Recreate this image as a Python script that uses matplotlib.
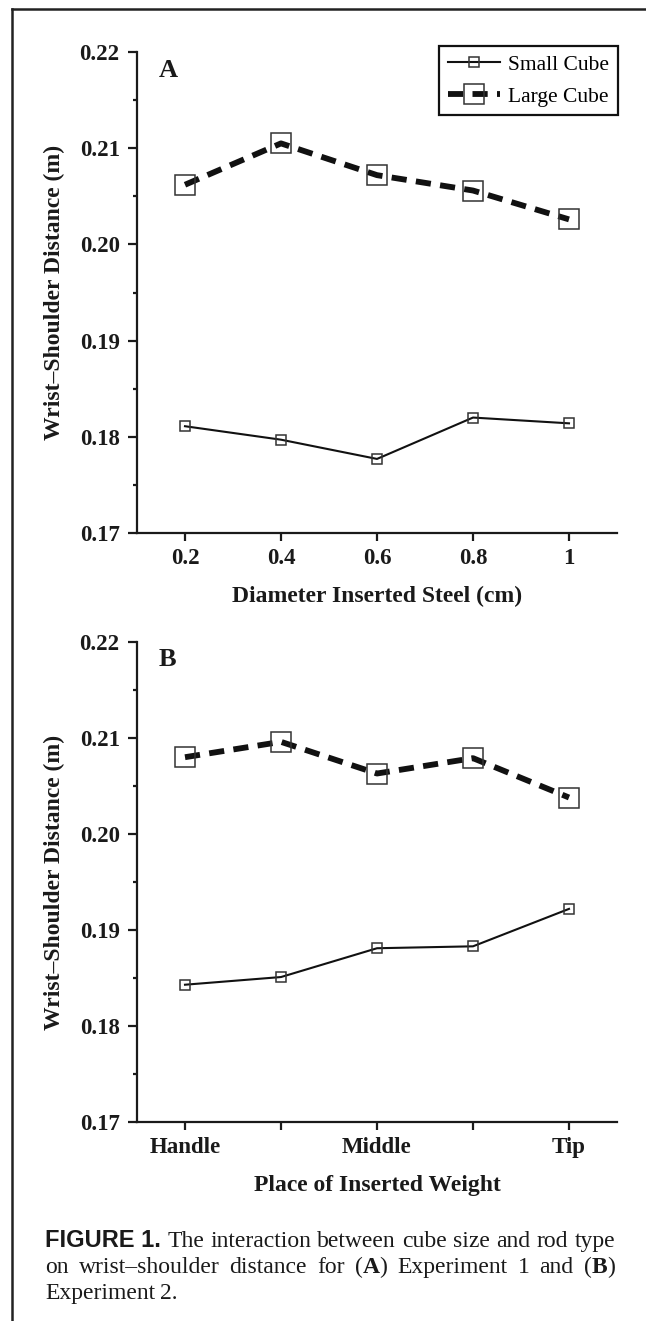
import matplotlib
matplotlib.use('Agg')
import matplotlib.pyplot as plt
from matplotlib.lines import Line2D
from matplotlib.ticker import MultipleLocator

# data
diameters = [0.2, 0.4, 0.6, 0.8, 1.0]
a_large = [0.2062, 0.2105, 0.2072, 0.2056, 0.2026]
a_small = [0.1811, 0.1797, 0.1777, 0.1820, 0.1814]

places = [1, 2, 3, 4, 5]
place_labels = ['Handle', '', 'Middle', '', 'Tip']
b_large = [0.2080, 0.2096, 0.2063, 0.2079, 0.2038]
b_small = [0.1843, 0.1851, 0.1881, 0.1883, 0.1922]

yticks = [0.17, 0.18, 0.19, 0.20, 0.21, 0.22]
ytick_labels = ['0.17', '0.18', '0.19', '0.20', '0.21', '0.22']

plt.rcParams['font.family'] = 'Liberation Serif'

W, H = 646, 1321
fig = plt.figure(figsize=(W / 100, H / 100), dpi=100)


def px_axes(left, top, right, bottom):
    return fig.add_axes([left / W, 1 - bottom / H, (right - left) / W, (bottom - top) / H])


def style_axes(ax):
    for s in ['top', 'right']:
        ax.spines[s].set_visible(False)
    for s in ['left', 'bottom']:
        ax.spines[s].set_linewidth(1.6)
        ax.spines[s].set_color('#1a1a1a')
    ax.set_ylim(0.17, 0.22)
    ax.set_yticks(yticks)
    ax.set_yticklabels(ytick_labels)
    ax.yaxis.set_minor_locator(MultipleLocator(0.005))
    ax.tick_params(axis='y', which='major', direction='out', length=6.5, width=1.6, pad=6,
                   labelsize=16.5, color='#1a1a1a')
    ax.tick_params(axis='y', which='minor', direction='out', length=3, width=1.6, color='#1a1a1a')
    ax.tick_params(axis='x', which='major', direction='out', length=6, width=1.6, pad=5,
                   labelsize=16.5, color='#1a1a1a')
    for lab in ax.get_xticklabels() + ax.get_yticklabels():
        lab.set_fontweight('bold')
        lab.set_color('#1a1a1a')


def draw_series(ax, x, small, large):
    ax.plot(x, small, color='#111111', lw=1.5, marker='s', ms=7.5, mfc='none',
            mec='#333333', mew=1.1, label='Small Cube')
    ax.plot(x, large, color='#111111', lw=4.2, linestyle=(0, (2.6, 1.6)), marker='s',
            ms=15, mfc='none', mec='#333333', mew=1.1, label='Large Cube')


# panel A
axA = px_axes(137, 52, 617, 533)
draw_series(axA, diameters, a_small, a_large)
axA.set_xlim(0.1, 1.1)
axA.set_xticks(diameters)
axA.set_xticklabels(['0.2', '0.4', '0.6', '0.8', '1'])
style_axes(axA)
leg = axA.legend(loc='upper right', bbox_to_anchor=(1.002, 1.012), borderaxespad=0,
                 fancybox=False, edgecolor='#111111', framealpha=1, fontsize=15.5,
                 handlelength=2.4, handletextpad=0.4, labelspacing=0.55,
                 borderpad=0.4, numpoints=1)
leg.get_frame().set_linewidth(1.6)

# panel B
axB = px_axes(137, 642, 617, 1122)
draw_series(axB, places, b_small, b_large)
axB.set_xlim(0.5, 5.5)
axB.set_xticks(places)
axB.set_xticklabels(place_labels)
style_axes(axB)

# labels
txt = dict(fontsize=17, fontweight='bold', color='#1a1a1a')
fig.text(377 / W, 1 - 596 / H, 'Diameter Inserted Steel (cm)', ha='center', va='center', **txt)
fig.text(377 / W, 1 - 1185 / H, 'Place of Inserted Weight', ha='center', va='center', **txt)
fig.text(54 / W, 1 - 292 / H, 'Wrist–Shoulder Distance (m)', ha='center', va='center',
         rotation=90, **txt)
fig.text(54 / W, 1 - 882 / H, 'Wrist–Shoulder Distance (m)', ha='center', va='center',
         rotation=90, **txt)
fig.text(159 / W, 1 - 77 / H, 'A', ha='left', va='baseline', fontsize=19, fontweight='bold',
         color='#1a1a1a')
fig.text(159 / W, 1 - 666 / H, 'B', ha='left', va='baseline', fontsize=19, fontweight='bold',
         color='#1a1a1a')

# page frame (top and left rules)
fig.add_artist(Line2D([12 / W, 12 / W], [0, 1 - 9 / H], transform=fig.transFigure,
                      color='#222222', lw=1.8))
fig.add_artist(Line2D([12 / W, 1], [1 - 9 / H, 1 - 9 / H], transform=fig.transFigure,
                      color='#222222', lw=1.8))

# caption, justified by hand
serif = dict(family='Liberation Serif', fontsize=17, color='#1a1a1a')
serif_b = dict(family='Liberation Serif', fontsize=17, fontweight='bold', color='#1a1a1a')
sans_b = dict(family='Liberation Sans', fontsize=17, fontweight='bold', color='#1a1a1a')

renderer = fig.canvas.get_renderer()


def place_line(words, y, x0, x1, justify=True):
    items = []
    for w in words:
        segs = []
        tot = 0
        for s, kw in w:
            t = fig.text(0, 1 - y / H, s, ha='left', va='baseline', **kw)
            wd = t.get_window_extent(renderer).width
            segs.append((t, wd))
            tot += wd
        items.append((segs, tot))
    if justify:
        gap = (x1 - x0 - sum(t for _, t in items)) / (len(items) - 1)
    else:
        gap = 5
    x = x0
    for segs, tot in items:
        for t, wd in segs:
            t.set_x(x / W)
            x += wd
        x += gap


line1 = [[('FIGURE 1.', sans_b)]] + [[(w, serif)] for w in
                                      'The interaction between cube size and rod type'.split()]
line2 = [[(w, serif)] for w in 'on wrist–shoulder distance for'.split()]
line2 += [[('(', serif), ('A', serif_b), (')', serif)]]
line2 += [[(w, serif)] for w in 'Experiment 1 and'.split()]
line2 += [[('(', serif), ('B', serif_b), (')', serif)]]
line3 = [[(w, serif)] for w in 'Experiment 2.'.split()]

place_line(line1, 1247, 45, 615)
place_line(line2, 1273, 45, 615)
place_line(line3, 1299, 45, 615, justify=False)

fig.savefig('out.png', dpi=100)
